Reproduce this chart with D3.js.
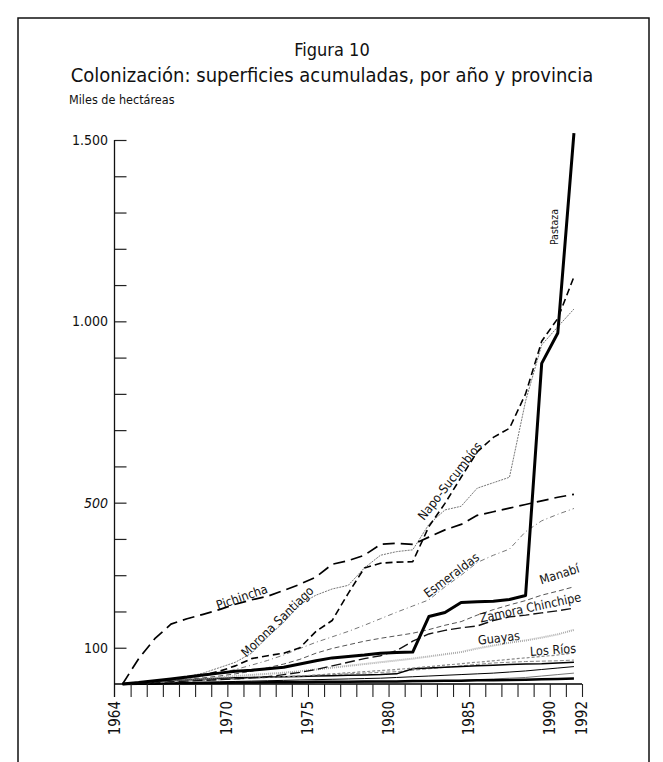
<!DOCTYPE html>
<html><head><meta charset="utf-8">
<script src="https://cdn.jsdelivr.net/npm/d3@7"></script>
<style>body{margin:0;background:#fff}svg{display:block}text{font-stretch:condensed}</style>
</head><body>
<svg id="c" width="663" height="762"></svg>
<script>
const years = [1964,1965,1966,1967,1968,1969,1970,1971,1972,1973,1974,1975,1976,1977,1978,1979,1980,1981,1982,1983,1984,1985,1986,1987,1988,1989,1990,1991,1992];
const pastaza   = [0,4,9,14,19,25,30,35,38,42,46,55,64,72,76,80,85,87,88,186,197,225,227,228,233,244,884,968,1519];
const napoSucumbios = [0,4,8,12,18,25,35,50,70,78,85,100,145,175,250,320,333,336,337,434,498,570,640,680,705,800,945,1008,1123];
const pichincha = [0,70,125,165,180,192,205,220,232,242,258,275,295,330,340,355,385,388,385,405,425,440,465,475,485,495,505,515,523];
const moronaSantiago = [0,4,8,12,20,30,45,60,85,130,170,220,245,262,272,320,355,365,370,440,480,490,540,555,570,780,935,985,1034];
const esmeraldas = [0,3,6,10,15,22,30,40,52,65,80,98,115,130,145,162,180,198,215,232,268,300,335,355,372,420,450,468,484];
const manabi = [0,3,6,9,13,17,22,28,35,45,55,68,85,98,108,118,126,133,140,150,162,172,190,205,218,230,245,256,268];
const zamoraChinchipe = [0,2,4,6,8,10,12,14,17,20,26,32,40,50,60,70,78,92,118,138,148,155,160,175,185,190,196,202,209];
const guayas = [0,3,6,9,12,15,18,22,25,28,31,35,40,45,50,55,60,65,70,76,82,88,98,106,114,120,128,137,149];
const losRios = [0,2,4,6,8,10,12,14,16,18,20,22,25,28,31,34,37,40,44,48,52,56,60,64,68,72,76,80,86];
const otra1 = [0,3,6,9,12,14,16,17,18,19,20,21,22,23,24,25,26,28,42,44,46,48,50,52,54,55,56,58,60];
const otra2 = [0,2,4,6,8,10,12,14,16,18,20,22,24,26,28,30,32,34,38,42,46,50,54,58,60,62,63,64,66];
const otra3 = [0,1,2,3,4,5,6,7,8,9,10,11,12,13,14,15,16,18,20,22,24,26,28,30,33,36,40,44,48];
const otra4 = [0,1,1,2,2,3,3,4,4,5,5,5,6,6,6,7,7,7,8,8,9,9,10,10,11,12,13,14,15];
const otra5 = [0,1,1,1,2,2,2,3,3,3,4,4,4,5,5,5,6,6,6,7,8,10,12,14,16,18,22,26,30];
const yTickValues = [100,200,300,400,500,600,700,800,900,1000,1100,1200,1300,1400,1500];
const yTickLabels = [100,500,1000,1500];
const xTickLabels = [[1963.5,"1964"],[1970.5,"1970"],[1975.5,"1975"],[1980.5,"1980"],[1985.5,"1985"],[1990.5,"1990"],[1992.5,"1992"]];

const FONT = "'DejaVu Sans Condensed','Liberation Sans Narrow','DejaVu Sans',sans-serif";
const svg = d3.select("#c");
const x = d3.scaleLinear().domain([1963.5,1992.5]).range([114.5,582]);
const y = d3.scaleLinear().domain([0,1500]).range([684,140]);
const loc = d3.formatLocale({decimal:",",thousands:".",grouping:[3],currency:["",""]});
const fmt = loc.format(",d");

// frame
const fr = svg.append("g").attr("stroke","#111").attr("stroke-width",1.5).attr("fill","none");
fr.append("path").attr("d","M18,762V18H649V762");

// titles
svg.append("text").attr("x",332).attr("y",56).attr("text-anchor","middle")
  .attr("font-family",FONT).attr("font-size",18).attr("fill","#111").text("Figura 10");
svg.append("text").attr("x",332).attr("y",82).attr("text-anchor","middle")
  .attr("font-family",FONT).attr("font-size",20).attr("fill","#111")
  .text("Colonización: superficies acumuladas, por año y provincia");
svg.append("text").attr("x",69).attr("y",104)
  .attr("font-family",FONT).attr("font-size",12.5).attr("fill","#111").text("Miles de hectáreas");

const series = [
  {v:otra5, c:"#777", w:1, d:null},
  {v:otra4, c:"#000", w:2.5, d:null},
  {v:otra3, c:"#000", w:1, d:null},
  {v:otra2, c:"#888", w:1, d:"4,2"},
  {v:otra1, c:"#000", w:1.5, d:null},
  {v:losRios, c:"#888", w:1.2, d:"3,2"},
  {v:guayas, c:"#aaa", w:2, d:"1,1"},
  {v:zamoraChinchipe, c:"#111", w:1.4, d:"10,4"},
  {v:manabi, c:"#555", w:1, d:"5,3"},
  {v:esmeraldas, c:"#777", w:1, d:"5,3,1,3"},
  {v:moronaSantiago, c:"#777", w:1, d:"2,1"},
  {v:pichincha, c:"#000", w:1.7, d:"12,6"},
  {v:napoSucumbios, c:"#000", w:1.6, d:"7,4"},
  {v:pastaza, c:"#000", w:3, d:null}
];
const line = d3.line().x((d,i)=>x(years[i])).y(d=>y(d));
svg.append("g").selectAll("path").data(series).join("path")
  .attr("d",s=>line(s.v)).attr("fill","none")
  .attr("stroke",s=>s.c).attr("stroke-width",s=>s.w)
  .attr("stroke-dasharray",s=>s.d).attr("stroke-linejoin","round");

// y axis
const yAxis = d3.axisRight(y).tickValues(yTickValues).tickSize(12).tickFormat("");
const gy = svg.append("g").attr("transform","translate(114.5,0)").call(yAxis);
gy.select(".domain").remove();
gy.selectAll(".tick line").attr("stroke","#222").attr("stroke-width",1.2);
svg.append("line").attr("x1",114.5).attr("x2",114.5).attr("y1",y(1500)).attr("y2",697)
  .attr("stroke","#111").attr("stroke-width",1.3);
svg.append("g").selectAll("text").data(yTickLabels).join("text")
  .attr("x",108).attr("y",d=>y(d)).attr("dy","0.35em").attr("text-anchor","end")
  .attr("font-family",FONT).attr("font-size",14).attr("fill","#111")
  .attr("font-style",d=>d===500?"italic":null)
  .text(d=>fmt(d));

// x axis
const xAxis = d3.axisBottom(x).tickValues(d3.range(1964.5,1993,1)).tickSize(13).tickFormat("");
const gx = svg.append("g").attr("transform","translate(0,684)").call(xAxis);
gx.select(".domain").attr("stroke","#000").attr("stroke-width",1.5).attr("d","M114.5,0H582");
gx.selectAll(".tick line").attr("stroke","#222").attr("stroke-width",1.1);
svg.append("g").selectAll("text").data(xTickLabels).join("text")
  .attr("transform",d=>`translate(${x(d[0])+5},701) rotate(-90)`)
  .attr("text-anchor","end")
  .attr("font-family",FONT).attr("font-size",15).attr("fill","#111")
  .text(d=>d[1]);

// line labels
const labels = [
  {t:"Pichincha", yr:1971.4, v:240, a:-19, fs:12.5},
  {t:"Morona Santiago", yr:1973.6, v:172, a:-44, fs:12.5},
  {t:"Napo-Sucumbíos", yr:1984.3, v:560, a:-52, fs:12.5},
  {t:"Esmeraldas", yr:1984.4, v:300, a:-37, fs:12.5},
  {t:"Manabí", yr:1991.1, v:303, a:-18, fs:12.5},
  {t:"Zamora Chinchipe", yr:1989.3, v:211, a:-12, fs:12.5},
  {t:"Guayas", yr:1987.35, v:127, a:-7, fs:12.5},
  {t:"Los Ríos", yr:1990.7, v:94, a:-4, fs:12.5},
  {t:"Pastaza", yr:1990.8, v:1260, a:-90, fs:10.5}
];
svg.append("g").selectAll("text").data(labels).join("text")
  .attr("transform",d=>`translate(${x(d.yr)},${y(d.v)}) rotate(${d.a})`)
  .attr("text-anchor","middle").attr("dy","0.35em")
  .attr("font-family",FONT).attr("font-size",d=>d.fs).attr("fill","#111")
  .text(d=>d.t);
</script>
</body></html>
